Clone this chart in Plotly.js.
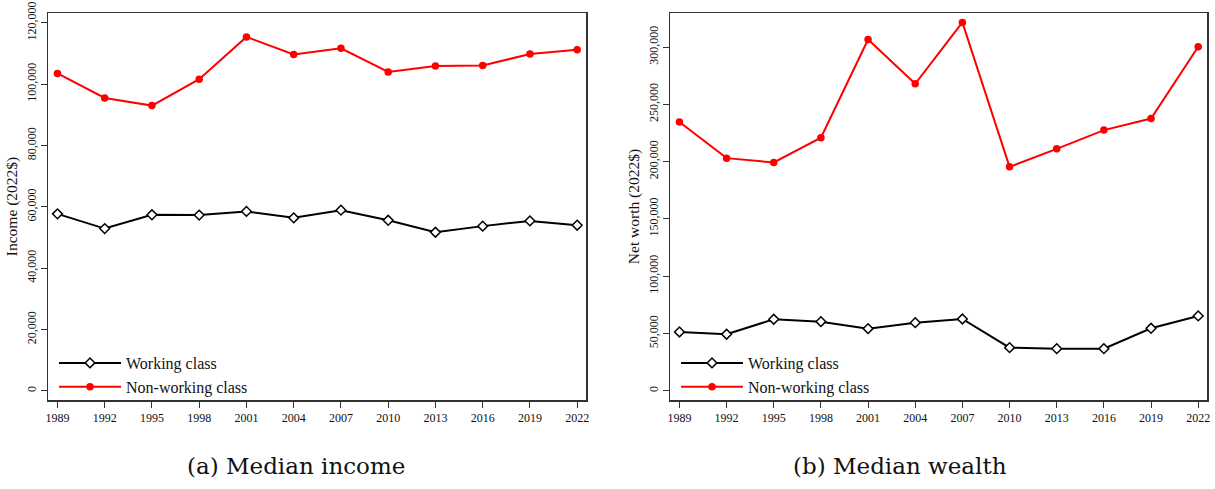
<!DOCTYPE html>
<html>
<head>
<meta charset="utf-8">
<script src="https://cdn.plot.ly/plotly-3.0.1.min.js"></script>
<style>html,body{margin:0;padding:0;background:#fff;}#chart{width:1215px;height:489px;}</style>
</head>
<body>
<div id="chart"></div>
<script>
const years = [1989, 1992, 1995, 1998, 2001, 2004, 2007, 2010, 2013, 2016, 2019, 2022];
const incomeWorking = [57700, 52900, 57400, 57300, 58500, 56400, 58900, 55600, 51700, 53700, 55400, 54000];
const incomeNonWorking = [103500, 95500, 93000, 101600, 115400, 109700, 111700, 104000, 105900, 106100, 109800, 111200];
const wealthWorking = [51300, 49300, 62400, 60300, 54200, 59400, 62600, 37600, 36700, 36700, 54500, 65300];
const wealthNonWorking = [234500, 203000, 199200, 220800, 306600, 267900, 321500, 195400, 211100, 227500, 237600, 300300];
const seriesNames = ["Working class", "Non-working class"];
const incomeTicks = [0, 20000, 40000, 60000, 80000, 100000, 120000];
const wealthTicks = [0, 50000, 100000, 150000, 200000, 250000, 300000];
const captions = ["(a) Median income", "(b) Median wealth"];
const yTitles = ["Income (2022$)", "Net worth (2022$)"];

const FONT = "'Liberation Serif', 'DejaVu Serif', serif";
const CAPFONT = "'DejaVu Serif', 'Liberation Serif', serif";
const working = {
  mode: "lines+markers",
  line: {color: "#000", width: 2},
  marker: {symbol: "diamond", size: 7.5, color: "#fff", line: {color: "#000", width: 1.5}}
};
const nonWorking = {
  mode: "lines+markers",
  line: {color: "#ff0000", width: 2},
  marker: {symbol: "circle", size: 7.5, color: "#ff0000"}
};

const traces = [
  Object.assign({x: years, y: incomeWorking, name: seriesNames[0], xaxis: "x", yaxis: "y", legend: "legend"}, working),
  Object.assign({x: years, y: incomeNonWorking, name: seriesNames[1], xaxis: "x", yaxis: "y", legend: "legend"}, nonWorking),
  Object.assign({x: years, y: wealthWorking, name: seriesNames[0], xaxis: "x2", yaxis: "y2", legend: "legend2"}, working),
  Object.assign({x: years, y: wealthNonWorking, name: seriesNames[1], xaxis: "x2", yaxis: "y2", legend: "legend2"}, nonWorking)
];

function xax(domain, anchor) {
  return {
    domain: domain, anchor: anchor,
    range: [1988.4, 2022.56],
    tickmode: "array", tickvals: years, ticktext: years.map(String),
    ticks: "outside", ticklen: 6, tickwidth: 1, tickcolor: "#333",
    showline: true, linecolor: "#333", linewidth: 1.5, mirror: true,
    showgrid: false, zeroline: false,
    tickfont: {family: FONT, size: 12, color: "#111"}
  };
}
function yax(domain, anchor, range, ticks, title) {
  return {
    domain: domain, anchor: anchor, range: range,
    tickmode: "array", tickvals: ticks, tickformat: ",d",
    tickangle: -90,
    ticks: "outside", ticklen: 6, tickwidth: 1, tickcolor: "#333",
    showline: true, linecolor: "#333", linewidth: 1.5, mirror: true,
    showgrid: false, zeroline: false,
    tickfont: {family: FONT, size: 12, color: "#111"},
    title: {text: title, font: {family: FONT, size: 15.5, color: "#111"}, standoff: 3}
  };
}

const yDom = [1 - 400/489, 1 - 13/489];
const legendBase = {
  xanchor: "left", yanchor: "top",
  bgcolor: "rgba(0,0,0,0)", borderwidth: 0,
  font: {family: FONT, size: 16, color: "#111"},
  itemwidth: 62, tracegroupgap: 0, traceorder: "normal"
};

const layout = {
  width: 1215, height: 489,
  margin: {l: 0, r: 0, t: 0, b: 0},
  paper_bgcolor: "#fff", plot_bgcolor: "#fff",
  showlegend: true,
  xaxis: xax([48/1215, 586/1215], "y"),
  yaxis: yax(yDom, "x", [-3000, 123200], incomeTicks, yTitles[0]),
  xaxis2: xax([670/1215, 1207/1215], "y2"),
  yaxis2: yax(yDom, "x2", [-8100, 329700], wealthTicks, yTitles[1]),
  legend: Object.assign({x: 54/1215, y: 1 - 346/489}, legendBase),
  legend2: Object.assign({x: 676/1215, y: 1 - 346/489}, legendBase),
  annotations: [
    {text: captions[0], xref: "paper", yref: "paper", x: 296/1215, y: 1 - 466/489, xanchor: "center", yanchor: "middle", showarrow: false, font: {family: CAPFONT, size: 23, color: "#111"}},
    {text: captions[1], xref: "paper", yref: "paper", x: 900/1215, y: 1 - 466/489, xanchor: "center", yanchor: "middle", showarrow: false, font: {family: CAPFONT, size: 23, color: "#111"}}
  ]
};

Plotly.newPlot("chart", traces, layout, {staticPlot: true, displayModeBar: false});
</script>
</body>
</html>
